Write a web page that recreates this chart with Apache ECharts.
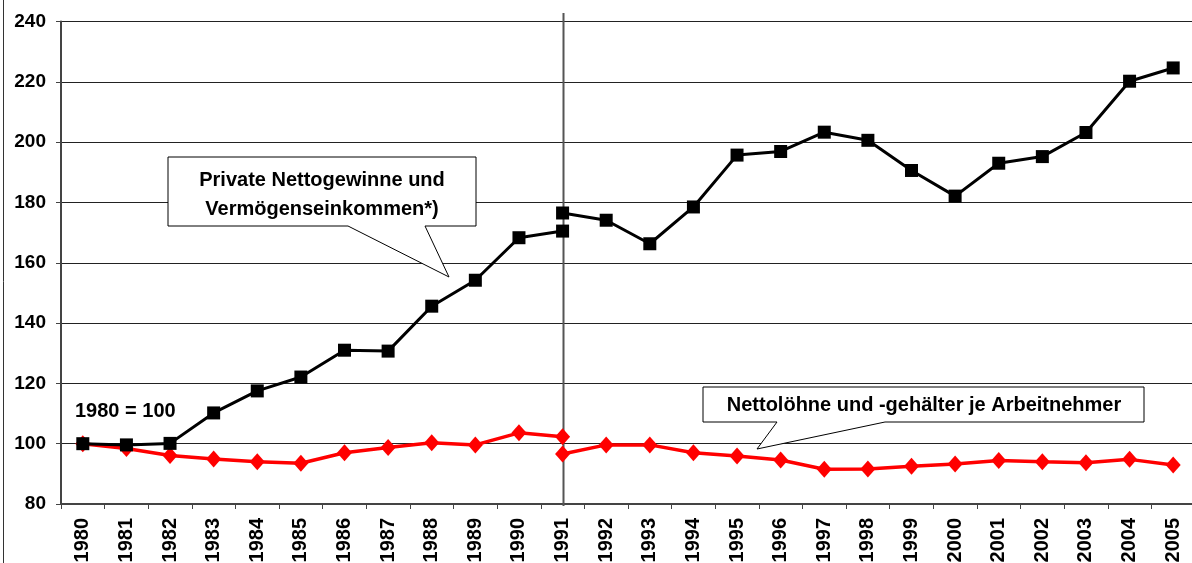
<!DOCTYPE html>
<html>
<head>
<meta charset="utf-8">
<script src="https://cdn.jsdelivr.net/npm/echarts@6/dist/echarts.min.js"></script>
<style>
html,body{margin:0;padding:0;background:#fff;}
#chart{width:1192px;height:563px;}
</style>
</head>
<body>
<div id="chart"></div>
<script>
const years = ['1980','1981','1982','1983','1984','1985','1986','1987','1988','1989','1990','1991','1992','1993','1994','1995','1996','1997','1998','1999','2000','2001','2002','2003','2004','2005'];
const westYears = years.slice(0, 12);      // 1980-1991 (früheres Bundesgebiet)
const unifiedYears = years.slice(11);      // 1991-2005 (Deutschland)

const profitsWest = [100, 99.6, 100.1, 110.2, 117.5, 122.1, 131.0, 130.7, 145.6, 154.2, 168.3, 170.5];
const profitsUnified = [176.5, 174.1, 166.3, 178.5, 195.7, 196.9, 203.3, 200.6, 190.6, 182.1, 193.0, 195.2, 203.2, 220.2, 224.6];
const wagesWest = [100, 98.4, 96.1, 94.9, 94.0, 93.5, 97.0, 98.7, 100.3, 99.6, 103.6, 102.3];
const wagesUnified = [96.6, 99.6, 99.6, 97.0, 95.9, 94.6, 91.5, 91.6, 92.5, 93.3, 94.4, 94.0, 93.7, 94.8, 92.9];

const yTicks = [80, 100, 120, 140, 160, 180, 200, 220, 240];

const labelProfits = ['Private Nettogewinne und', 'Vermögenseinkommen*)'];
const labelWages = 'Nettolöhne und -gehälter je Arbeitnehmer';
const labelBase = '1980 = 100';
const breakYear = '1991';

const FONT = '"Liberation Sans", Arial, Helvetica, sans-serif';

function pairs(cats, vals) { return cats.map((c, i) => [c, vals[i]]); }

const chart = echarts.init(document.getElementById('chart'), null, {renderer: 'canvas'});

const profitStyle = {
  type: 'line', symbol: 'rect', symbolSize: 13, showSymbol: true,
  lineStyle: {color: '#000', width: 3}, itemStyle: {color: '#000'},
  z: 4, animation: false
};
const wageStyle = {
  type: 'line', symbol: 'diamond', symbolSize: [15, 17], showSymbol: true,
  lineStyle: {color: '#ff0000', width: 3.5}, itemStyle: {color: '#ff0000'},
  z: 3, animation: false
};

chart.setOption({
  animation: false,
  backgroundColor: '#fff',
  grid: {left: 61, top: 21.5, width: 1134, bottom: 59, containLabel: false, outerBoundsMode: 'none'},
  xAxis: {
    type: 'category', data: years, boundaryGap: true,
    axisLine: {lineStyle: {color: '#444', width: 2}},
    axisTick: {show: true, length: 5, lineStyle: {color: '#444', width: 1}},
    axisLabel: {rotate: 90, margin: 14, fontFamily: FONT, fontWeight: 'bold', fontSize: 20, color: '#000', interval: 0},
    splitLine: {show: false}
  },
  yAxis: {
    type: 'value', min: yTicks[0], max: yTicks[yTicks.length - 1], interval: 20,
    axisLine: {show: true, lineStyle: {color: '#444', width: 2}},
    axisTick: {show: true, length: 5, lineStyle: {color: '#444', width: 1}},
    axisLabel: {margin: 15, fontFamily: FONT, fontWeight: 'bold', fontSize: 19, color: '#000'},
    splitLine: {show: true, lineStyle: {color: '#222', width: 1}}
  },
  series: [
    Object.assign({name: 'Löhne West', data: pairs(westYears, wagesWest)}, wageStyle),
    Object.assign({name: 'Löhne Deutschland', data: pairs(unifiedYears, wagesUnified)}, wageStyle),
    Object.assign({name: 'Gewinne West', data: pairs(westYears, profitsWest)}, profitStyle),
    Object.assign({name: 'Gewinne Deutschland', data: pairs(unifiedYears, profitsUnified)}, profitStyle)
  ]
});

const bx = chart.convertToPixel({xAxisIndex: 0}, breakYear);
const yBottom = chart.convertToPixel({yAxisIndex: 0}, yTicks[0]);

const textStyle = {fontFamily: FONT, fontWeight: 'bold', fontSize: 20, fill: '#000'};

chart.setOption({
  graphic: [
    {type: 'line', shape: {x1: 3.5, y1: 0, x2: 3.5, y2: 563}, style: {stroke: '#333', lineWidth: 1}, z: 1},
    {type: 'line', shape: {x1: Math.round(bx) + 0.5, y1: 13, x2: Math.round(bx) + 0.5, y2: yBottom + 2}, style: {stroke: '#555', lineWidth: 2}, z: 2},
    {type: 'polygon', shape: {points: [[168,157],[476,157],[476,226],[425,226],[449,277],[348,226],[168,226]]},
      style: {fill: '#fff', stroke: '#000', lineWidth: 1}, z: 10},
    {type: 'text', x: 322, y: 180, style: Object.assign({text: labelProfits[0], align: 'center', verticalAlign: 'middle'}, textStyle), z: 11},
    {type: 'text', x: 322, y: 209, style: Object.assign({text: labelProfits[1], align: 'center', verticalAlign: 'middle'}, textStyle), z: 11},
    {type: 'polygon', shape: {points: [[703,387],[1144,387],[1144,422],[885,422],[757,449],[777,422],[703,422]]},
      style: {fill: '#fff', stroke: '#000', lineWidth: 1}, z: 10},
    {type: 'text', x: 924, y: 405, style: Object.assign({text: labelWages, align: 'center', verticalAlign: 'middle'}, textStyle), z: 11},
    {type: 'text', x: 75, y: 411, style: Object.assign({text: labelBase, align: 'left', verticalAlign: 'middle'}, textStyle), z: 11}
  ]
});
</script>
</body>
</html>
